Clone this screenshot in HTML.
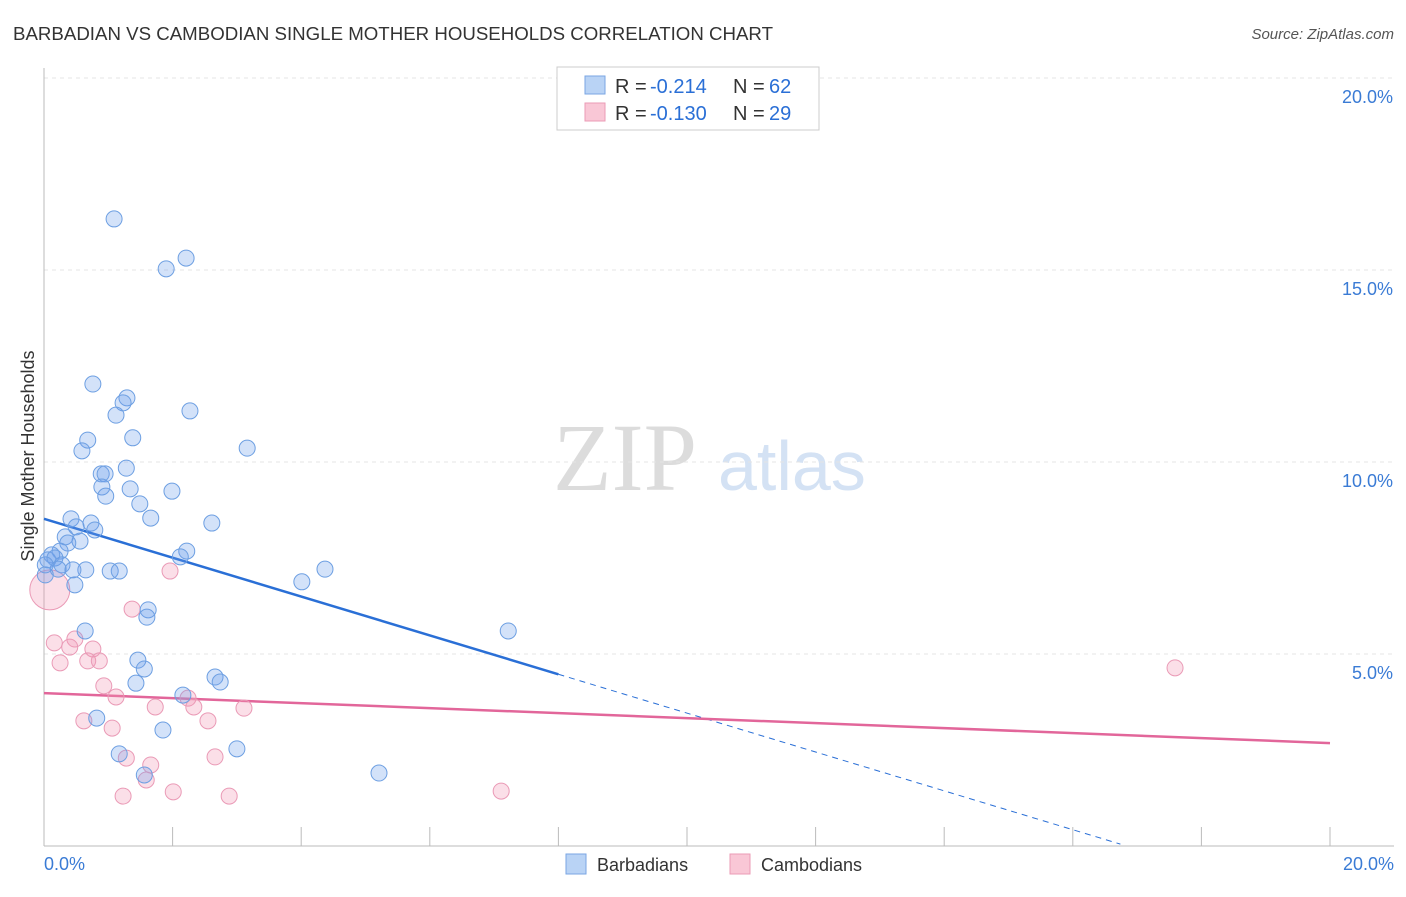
<!DOCTYPE html>
<html><head><meta charset="utf-8"><style>
body{margin:0;background:#fff;font-family:"Liberation Sans",sans-serif}
</style></head><body>
<svg id="chart" width="1406" height="892" xmlns="http://www.w3.org/2000/svg" font-family="Liberation Sans, sans-serif">
<text x="13" y="40" font-size="18" fill="#333" textLength="760" lengthAdjust="spacingAndGlyphs">BARBADIAN VS CAMBODIAN SINGLE MOTHER HOUSEHOLDS CORRELATION CHART</text>
<text x="1394" y="39" font-size="15" fill="#555" font-style="italic" text-anchor="end">Source: ZipAtlas.com</text>
<g>
<text x="553" y="490" font-size="96" fill="#dcdcdc" style="font-family:'Liberation Serif',serif">ZIP</text>
<text x="718" y="490" font-size="70" fill="#d4e2f4">atlas</text>
</g>
<g id="grid"></g>
<g id="axes"></g>
<g id="lines"></g>
<g id="pts"></g>
<text transform="translate(34,456) rotate(-90)" font-size="18" fill="#333" text-anchor="middle">Single Mother Households</text>
<g>
<rect x="557" y="67" width="262" height="63" fill="#fff" stroke="#ccc"/>
<rect x="585" y="76" width="20" height="18" fill="#b9d3f5" stroke="#7aa6e3"/>
<rect x="585" y="103" width="20" height="18" fill="#f9c7d6" stroke="#eb9bb6"/>
<text x="615" y="93" font-size="20" fill="#333">R =</text>
<text x="650" y="93" font-size="20" fill="#2a6fd6">-0.214</text>
<text x="733" y="93" font-size="20" fill="#333">N =</text>
<text x="769" y="93" font-size="20" fill="#2a6fd6">62</text>
<text x="615" y="120" font-size="20" fill="#333">R =</text>
<text x="650" y="120" font-size="20" fill="#2a6fd6">-0.130</text>
<text x="733" y="120" font-size="20" fill="#333">N =</text>
<text x="769" y="120" font-size="20" fill="#2a6fd6">29</text>
</g>
<g>
<rect x="566" y="854" width="20" height="20" fill="#b9d3f5" stroke="#7aa6e3"/>
<text x="597" y="871" font-size="18" fill="#333">Barbadians</text>
<rect x="730" y="854" width="20" height="20" fill="#f9c7d6" stroke="#eb9bb6"/>
<text x="761" y="871" font-size="18" fill="#333">Cambodians</text>
</g>
</svg>
<script>
const blueX=[1.09,2.21,1.90,0.76,1.29,1.23,1.12,2.27,0.68,1.38,0.59,3.16,0.89,1.28,0.95,0.90,1.34,0.96,1.99,1.49,0.42,1.66,2.61,0.50,0.73,0.79,0.33,0.56,0.37,0.25,0.12,0.06,0.17,2.22,2.12,0.28,0.65,0.22,0.45,1.03,1.17,4.37,4.01,0.48,1.62,1.60,0.64,7.22,1.46,1.56,2.66,2.74,1.43,2.16,0.82,1.85,3.00,1.17,1.56,5.21,0.02,0.02];
const blueY=[16.33,15.31,15.03,12.03,11.67,11.54,11.22,11.33,10.57,10.63,10.29,10.36,9.69,9.84,9.69,9.35,9.30,9.11,9.24,8.91,8.52,8.54,8.41,8.31,8.41,8.23,8.05,7.94,7.89,7.68,7.58,7.45,7.50,7.68,7.53,7.32,7.19,7.21,7.19,7.16,7.16,7.21,6.88,6.80,6.15,5.96,5.60,5.60,4.84,4.61,4.40,4.27,4.24,3.93,3.33,3.02,2.53,2.40,1.85,1.90,7.32,7.06];
const pinkX=[0.09,0.16,0.48,0.40,0.76,0.25,0.68,0.86,1.37,1.96,0.93,1.12,2.24,0.62,2.33,1.73,2.55,3.11,1.06,1.28,1.66,2.66,1.59,1.23,2.01,2.88,7.11,17.59];
const pinkY=[6.67,5.29,5.39,5.18,5.13,4.77,4.82,4.82,6.17,7.16,4.17,3.88,3.85,3.26,3.62,3.62,3.26,3.59,3.07,2.29,2.11,2.32,1.72,1.30,1.41,1.30,1.43,4.64];
const pinkR=[20,8,8,8,8,8,8,8,8,8,8,8,8,8,8,8,8,8,8,8,8,8,8,8,8,8,8,8];
const blueTrend=[8.52,-1.6];
const pinkTrend=[3.98,2.68];
const yTicks=[5,10,15,20];
const yTickLabels=["5.0%","10.0%","15.0%","20.0%"];
const xEndLabels=["0.0%","20.0%"];
const X=v=>44+v*64.3, Y=v=>846-v*38.4;
const NS="http://www.w3.org/2000/svg";
function mk(p,t,a){const e=document.createElementNS(NS,t);for(const k in a)e.setAttribute(k,a[k]);p.appendChild(e);return e;}
const grid=document.getElementById('grid'),axes=document.getElementById('axes'),lines=document.getElementById('lines'),pts=document.getElementById('pts');
yTicks.forEach((t,i)=>{
 const g=mk(grid,'line',{x1:44,x2:1394,y1:Y(t),y2:Y(t),stroke:'#e4e4e4','stroke-dasharray':'4,4'});
 
 
 const l=mk(axes,'text',{x:1393,y:Y(t)+25,'font-size':18,fill:'#3a7bd5','text-anchor':'end'});
 l.textContent=yTickLabels[i];
 
 
});
mk(axes,'line',{x1:44,x2:44,y1:68,y2:846,stroke:'#bbb'});
mk(axes,'line',{x1:44,x2:1394,y1:846,y2:846,stroke:'#bbb'});
for(let i=0;i<=10;i++){const x=X(i*2);mk(axes,'line',{x1:x,x2:x,y1:827,y2:846,stroke:'#bbb'});}
const l0=mk(axes,'text',{x:44,y:870,'font-size':18,fill:'#3a7bd5'});l0.textContent=xEndLabels[0];


const l1=mk(axes,'text',{x:1394,y:870,'font-size':18,fill:'#3a7bd5','text-anchor':'end'});l1.textContent=xEndLabels[1];


function drawPts(xs,ys,rs,fill,stroke,name){xs.forEach((x,i)=>{const c=mk(pts,'circle',{cx:X(x),cy:Y(ys[i]),r:rs?rs[i]:8,fill:fill,stroke:stroke,'stroke-width':1});
 
 });}
drawPts(pinkX,pinkY,pinkR,'rgba(242,150,180,0.3)','#ea9ab6','cambodian-point');
drawPts(blueX,blueY,null,'rgba(110,160,235,0.3)','#6d9fe2','barbadian-point');
const bAt=v=>blueTrend[0]+(blueTrend[1]-blueTrend[0])*v/20;
const bs=mk(lines,'line',{x1:X(0),y1:Y(bAt(0)),x2:X(8),y2:Y(bAt(8)),stroke:'#2a6fd6','stroke-width':2.5});


const bd=mk(lines,'line',{x1:X(8),y1:Y(bAt(8)),x2:X(16.74),y2:Y(bAt(16.74)),stroke:'#2a6fd6','stroke-width':1,'stroke-dasharray':'6,5'});


const pl=mk(lines,'line',{x1:X(0),y1:Y(pinkTrend[0]),x2:X(20),y2:Y(pinkTrend[1]),stroke:'#e2669a','stroke-width':2.5});


</script>
</body></html>
